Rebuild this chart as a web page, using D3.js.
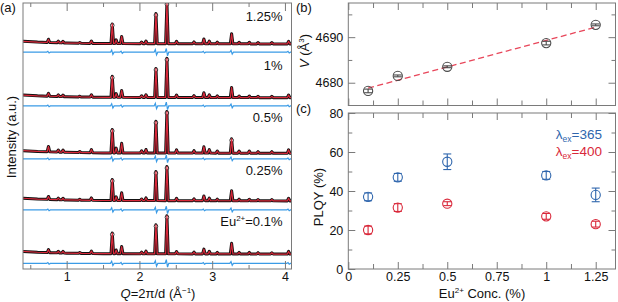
<!DOCTYPE html>
<html>
<head>
<meta charset="utf-8">
<script src="https://cdn.jsdelivr.net/npm/d3@7"></script>
<style>
body { margin: 0; background: #fff; }
svg { font-family: "Liberation Sans", Arial, sans-serif; }
</style>
</head>
<body>
<svg width="618" height="302"></svg>
<script>
// ---------- data ----------
// (a) Rietveld patterns, stacked from top to bottom
const sampleLabels = ["1.25%", "1%", "0.5%", "0.25%", "Eu2+=0.1%"];
const diffZero = [81.5, 61.3, 41.4, 22.2, 2.1];      // zero of each difference curve (a.u.)
const patternBase = [84.6, 64.4, 43.5, 25.6, 5.6];    // background level of each pattern (a.u.)
const bgQ = [0.4, 0.6, 1.0, 1.5, 4.09];
const bgI = [1.0, 0.7, 0.35, 0.15, 0];
const peakQ = [0.75, 0.885, 0.95, 1.18, 1.34, 1.627, 1.68, 1.756, 2.03, 2.09, 2.227, 2.378,
  2.51, 2.75, 2.886, 2.96, 3.07, 3.267, 3.37, 3.51, 3.63, 3.82, 4.05];
const peaks125 = [1.2, 0.6, 0.6, 0.3, 0.9, 7.4, 1.4, 2.7, 0.6, 1.0, 11.3, 15.4, 0.9, 0.7, 1.8, 1.0, 0.6, 3.8, 0.6, 0.6, 0.5, 0.5, 1.0];
const peaks100 = [1.1, 0.6, 0.6, 0.3, 0.9, 7.9, 1.4, 2.6, 0.6, 1.0, 10.9, 14.7, 0.9, 0.7, 1.8, 1.0, 0.6, 3.8, 0.6, 0.6, 0.5, 0.5, 1.0];
const peaks050 = [2.0, 0.8, 0.8, 0.4, 1.2, 8.8, 1.8, 3.6, 0.8, 1.3, 11.9, 15.6, 1.2, 0.9, 2.4, 1.3, 0.8, 5.4, 0.8, 0.8, 0.6, 0.6, 1.3];
const peaks025 = [1.1, 0.6, 0.6, 0.3, 0.9, 7.9, 1.4, 2.9, 0.6, 1.0, 10.9, 12.8, 0.9, 0.7, 1.8, 1.0, 0.6, 3.8, 0.6, 0.6, 0.5, 0.5, 1.0];
const peaks010 = [1.1, 0.6, 0.6, 0.3, 0.9, 7.8, 1.4, 2.7, 0.6, 1.0, 10.9, 14.3, 0.9, 0.7, 1.8, 1.0, 0.6, 4.0, 0.6, 0.6, 0.5, 0.5, 1.0];
const diffQ = [0.75, 1.627, 1.756, 2.227, 2.378, 2.886, 3.267, 4.05];
const diffAmp = [0.3, 0.8, 0.4, 1.0, 1.4, 0.3, 0.7, 0.3];

// (b) cell volume
const conc = [0.1, 0.25, 0.5, 1, 1.25];
const volume = [4678.2, 4681.5, 4683.5, 4688.7, 4692.7];
const volumeErr = [0.4, 0.2, 0.2, 0.4, 0.2];
const fitConc = [0.1, 1.25];
const fitVolume = [4678.8, 4692.2];

// (c) PLQY
const plqy365 = [37, 47, 55, 48, 38];
const plqy365Err = [2, 2, 4, 2, 3.5];
const plqy400 = [20, 31.5, 33.5, 27, 23];
const plqy400Err = [2, 2, 1, 1.5, 1.5];

// ---------- drawing ----------
const svg = d3.select("svg");
const frame = "#7a7a7a";
const fs = 12.5;
const blue = "#2f66ad", red = "#d9283a";

function frameRect(x0, x1, y0, y1) {
	svg.append("rect")
		.attr("x", x0).attr("y", y0)
		.attr("width", x1 - x0).attr("height", y1 - y0)
		.attr("fill", "none").attr("stroke", frame).attr("stroke-width", 1);
}

function tickAxis(axis, transform, values, size, labels, pad) {
	const g = svg.append("g")
		.attr("transform", transform)
		.call(axis.tickValues(values).tickSize(size).tickPadding(pad || 5)
			.tickFormat(labels ? labels : () => ""));
	g.select(".domain").remove();
	g.selectAll(".tick line").attr("stroke", frame);
	g.selectAll(".tick text").attr("font-size", fs).attr("fill", "#111")
		.attr("font-family", "Liberation Sans, Arial, sans-serif");
	return g;
}

// ----- panel (a)
const xA = d3.scaleLinear().domain([0.4, 4.09]).range([23, 291.5]);
const yA = d3.scaleLinear().domain([0, 100]).range([269, 3]);
const bgScale = d3.scaleLinear().domain(bgQ).range(bgI);
const peakW = 0.018, diffW = 0.025;
const patterns = [peaks125, peaks100, peaks050, peaks025, peaks010];

svg.append("defs").append("clipPath").attr("id", "clipA")
	.append("rect").attr("x", 23).attr("y", 3).attr("width", 268.5).attr("height", 266);

const line = d3.line().x(d => xA(d[0])).y(d => yA(d[1]));
const plotA = svg.append("g").attr("clip-path", "url(#clipA)");

patterns.forEach((heights, k) => {
	const base = patternBase[k];
	const pts = bgQ.map(q => [q, base + bgScale(q)]);
	const tops = [];
	peakQ.forEach((q, i) => {
		pts.push([q - peakW, base + bgScale(q - peakW)]);
		pts.push([q, base + bgScale(q) + heights[i]]);
		pts.push([q + peakW, base + bgScale(q + peakW)]);
		if (heights[i] > 5) tops.push([q, base + bgScale(q) + heights[i]]);
	});
	pts.sort((a, b) => a[0] - b[0]);

	const dpts = [[0.4, diffZero[k]], [4.09, diffZero[k]]];
	diffQ.forEach((q, i) => {
		dpts.push([q - diffW, diffZero[k]], [q - diffW / 3, diffZero[k] + diffAmp[i]],
			[q + diffW / 3, diffZero[k] - diffAmp[i]], [q + diffW, diffZero[k]]);
	});
	dpts.sort((a, b) => a[0] - b[0]);

	plotA.append("path").datum(dpts).attr("d", line)
		.attr("fill", "none").attr("stroke", "#3a9be6").attr("stroke-width", 1.2);
	// observed
	plotA.append("path").datum(pts).attr("d", line)
		.attr("fill", "none").attr("stroke", "#111").attr("stroke-width", 3)
		.attr("stroke-linejoin", "round");
	plotA.selectAll(null).data(tops).enter().append("circle")
		.attr("cx", d => xA(d[0])).attr("cy", d => yA(d[1]) + 1.5).attr("r", 1.8)
		.attr("fill", "#fff").attr("stroke", "#222").attr("stroke-width", 0.9);
	// calculated
	plotA.append("path").datum(pts).attr("d", line)
		.attr("fill", "none").attr("stroke", red).attr("stroke-width", 1.2)
		.attr("stroke-linejoin", "round");
});

frameRect(23, 291.5, 3, 269);
tickAxis(d3.axisBottom(xA), "translate(0,269)", [1, 2, 3, 4], -8, d3.format("d"), 3);
tickAxis(d3.axisBottom(xA), "translate(0,269)", [0.5, 1.5, 2.5, 3.5], -4);
tickAxis(d3.axisTop(xA), "translate(0,3)", [1, 2, 3, 4], -8);
tickAxis(d3.axisTop(xA), "translate(0,3)", [0.5, 1.5, 2.5, 3.5], -4);

const sampleBaselines = [20.7, 70, 121.7, 175, 226];
sampleLabels.forEach((s, k) => {
	const t = svg.append("text").attr("x", 282.5).attr("y", sampleBaselines[k])
		.attr("text-anchor", "end").attr("font-size", 13).attr("fill", "#111");
	if (s.startsWith("Eu")) {
		t.append("tspan").text("Eu");
		t.append("tspan").text("2+").attr("font-size", 8).attr("dy", -5);
		t.append("tspan").text("=0.1%").attr("dy", 5);
	} else {
		t.text(s);
	}
});

svg.append("text").attr("transform", "translate(16,137) rotate(-90)")
	.attr("text-anchor", "middle").attr("font-size", 13).attr("fill", "#111")
	.text("Intensity (a.u.)");

const qLabel = svg.append("text").attr("x", 158).attr("y", 297.5)
	.attr("text-anchor", "middle").attr("font-size", 13).attr("fill", "#111");
qLabel.append("tspan").text("Q").attr("font-style", "italic");
qLabel.append("tspan").text("=2π/d (Å");
qLabel.append("tspan").text("−1").attr("font-size", 8).attr("dy", -4.5);
qLabel.append("tspan").text(")").attr("dy", 4.5);

svg.append("text").attr("x", 0).attr("y", 12).attr("font-size", 13).attr("fill", "#111").text("(a)");

// ----- panels (b) and (c)
const xB = d3.scaleLinear().domain([0, 1.35]).range([348.3, 615.5]);
const yB = d3.scaleLinear().domain([4675, 4697.5]).range([105.5, 3]);
const yC = d3.scaleLinear().domain([0, 80]).range([269, 113]);
const xMajor = [0, 0.25, 0.5, 0.75, 1, 1.25];
const xMinor = [0.125, 0.375, 0.625, 0.875, 1.125];

frameRect(348.3, 615.5, 3, 105.5);
frameRect(348.3, 615.5, 113, 269);

[[105.5, 3], [269, 113]].forEach(([bot, top], p) => {
	tickAxis(d3.axisBottom(xB), `translate(0,${bot})`, xMajor, -7,
		p === 1 ? d => (d === 0 ? "0" : d3.format("~g")(d)) : null, 3);
	tickAxis(d3.axisBottom(xB), `translate(0,${bot})`, xMinor, -5);
	tickAxis(d3.axisTop(xB), `translate(0,${top})`, xMajor, -7);
	tickAxis(d3.axisTop(xB), `translate(0,${top})`, xMinor, -5);
});
tickAxis(d3.axisLeft(yB), "translate(348.3,0)", [4680, 4690], -7, d3.format("d"));
tickAxis(d3.axisLeft(yB), "translate(348.3,0)", [4685, 4695], -4);
tickAxis(d3.axisRight(yB), "translate(615.5,0)", [4680, 4690], -7);
tickAxis(d3.axisRight(yB), "translate(615.5,0)", [4685, 4695], -4);
tickAxis(d3.axisLeft(yC), "translate(348.3,0)", [0, 20, 40, 60, 80], -7, d3.format("d"));
tickAxis(d3.axisLeft(yC), "translate(348.3,0)", [10, 30, 50, 70], -4);
tickAxis(d3.axisRight(yC), "translate(615.5,0)", [20, 40, 60, 80], -7);
tickAxis(d3.axisRight(yC), "translate(615.5,0)", [10, 30, 50, 70], -4);

// fit line in (b)
svg.append("path").datum(fitConc.map((c, i) => [c, fitVolume[i]]))
	.attr("d", d3.line().x(d => xB(d[0])).y(d => yB(d[1])))
	.attr("fill", "none").attr("stroke", "#e8465a").attr("stroke-width", 1.3)
	.attr("stroke-dasharray", "6,3.5");

function points(yScale, values, errs, color, r) {
	const g = svg.append("g").attr("stroke", color).attr("fill", "none").attr("stroke-width", 1.1);
	conc.forEach((c, i) => {
		const cx = xB(c), y0 = yScale(values[i] - errs[i]), y1 = yScale(values[i] + errs[i]);
		g.append("line").attr("x1", cx).attr("x2", cx).attr("y1", y0).attr("y2", y1);
		g.append("line").attr("x1", cx - 4).attr("x2", cx + 4).attr("y1", y0).attr("y2", y0);
		g.append("line").attr("x1", cx - 4).attr("x2", cx + 4).attr("y1", y1).attr("y2", y1);
		g.append("circle").attr("cx", cx).attr("cy", yScale(values[i])).attr("r", r);
	});
}
points(yB, volume, volumeErr, "#4a4a4a", 4.6);
points(yC, plqy365, plqy365Err, blue, 4.6);
points(yC, plqy400, plqy400Err, red, 4.6);

// legend in (c)
[["365", blue, 139], ["400", red, 156]].forEach(([v, c, y]) => {
	const t = svg.append("text").attr("x", 602).attr("y", y).attr("text-anchor", "end")
		.attr("font-size", 13.5).attr("fill", c);
	t.append("tspan").text("λ");
	t.append("tspan").text("ex").attr("font-size", 8.5).attr("dy", 3);
	t.append("tspan").text("=" + v).attr("dy", -3);
});

// axis titles (b), (c)
const vLabel = svg.append("text").attr("transform", "translate(309,51) rotate(-90)")
	.attr("text-anchor", "middle").attr("font-size", 13).attr("fill", "#111");
vLabel.append("tspan").text("V").attr("font-style", "italic");
vLabel.append("tspan").text(" (Å");
vLabel.append("tspan").text("3").attr("font-size", 8).attr("dy", -5);
vLabel.append("tspan").text(")").attr("dy", 5);

svg.append("text").attr("transform", "translate(323,197) rotate(-90)")
	.attr("text-anchor", "middle").attr("font-size", 13).attr("fill", "#111")
	.text("PLQY (%)");

const eLabel = svg.append("text").attr("x", 482).attr("y", 297.5)
	.attr("text-anchor", "middle").attr("font-size", 13).attr("fill", "#111");
eLabel.append("tspan").text("Eu");
eLabel.append("tspan").text("2+").attr("font-size", 8).attr("dy", -4.5);
eLabel.append("tspan").text(" Conc. (%)").attr("dy", 4.5);

svg.append("text").attr("x", 296).attr("y", 12).attr("font-size", 13).attr("fill", "#111").text("(b)");
svg.append("text").attr("x", 296).attr("y", 113).attr("font-size", 13).attr("fill", "#111").text("(c)");
</script>
</body>
</html>
